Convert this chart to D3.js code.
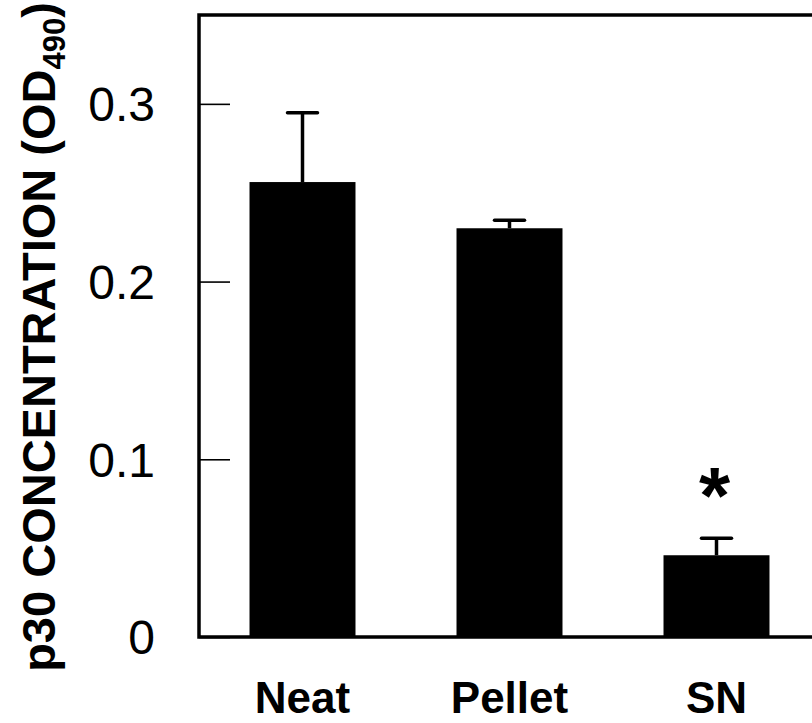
<!DOCTYPE html>
<html>
<head>
<meta charset="utf-8">
<script src="https://cdn.jsdelivr.net/npm/d3@7"></script>
<style>
  body { margin: 0; background: #fff; }
  svg { display: block; font-family: "Liberation Sans", Arial, sans-serif; }
</style>
</head>
<body>
<svg width="812" height="723"></svg>
<script>
var categories = ["Neat", "Pellet", "SN"];
var means = [0.256, 0.230, 0.046];
var errors = [0.039, 0.0045, 0.0096];
var marks = ["", "", "*"];
var yTicks = [0, 0.1, 0.2, 0.3];

function main() {
    var svg = d3.select("svg");

    var left = 199, top = 15, bottom = 637, right = 820;

    var x = d3.scaleBand()
        .domain(categories)
        .range([left, right])
        .paddingInner(0.488)
        .paddingOuter(0.244);

    var y = d3.scaleLinear()
        .domain([0, 0.35])
        .range([bottom, top]);

    var data = categories.map(function (c, i) {
        return { name: c, mean: means[i], err: errors[i], mark: marks[i] };
    });

    // bars
    svg.selectAll(".bar")
        .data(data)
        .enter().append("rect")
        .attr("class", "bar")
        .attr("x", function (d) { return x(d.name); })
        .attr("y", function (d) { return y(d.mean); })
        .attr("width", x.bandwidth())
        .attr("height", function (d) { return y(0) - y(d.mean); })
        .attr("fill", "#000");

    // error bars (upper half only shows)
    var eb = svg.selectAll(".err")
        .data(data)
        .enter().append("g")
        .attr("class", "err")
        .style("stroke", "#000")
        .style("stroke-width", 3.5);

    eb.append("line")
        .attr("x1", function (d) { return x(d.name) + x.bandwidth() / 2; })
        .attr("x2", function (d) { return x(d.name) + x.bandwidth() / 2; })
        .attr("y1", function (d) { return y(d.mean); })
        .attr("y2", function (d) { return y(d.mean + d.err); });

    eb.append("line")
        .attr("x1", function (d) { return x(d.name) + x.bandwidth() / 2 - 15; })
        .attr("x2", function (d) { return x(d.name) + x.bandwidth() / 2 + 15; })
        .attr("y1", function (d) { return y(d.mean + d.err); })
        .attr("y2", function (d) { return y(d.mean + d.err); })
        .style("stroke-linecap", "round");

    // significance mark
    svg.selectAll(".mark")
        .data(data)
        .enter().append("text")
        .attr("class", "mark")
        .attr("x", function (d) { return x(d.name) + x.bandwidth() / 2 - 2; })
        .attr("y", 523)
        .attr("text-anchor", "middle")
        .style("font-size", "80px")
        .style("font-weight", "bold")
        .text(function (d) { return d.mark; });

    // y axis with inner ticks
    var yAxis = svg.append("g")
        .attr("transform", "translate(" + left + ",0)")
        .call(d3.axisRight(y).tickValues(yTicks).tickSize(31).tickFormat(""));
    yAxis.select(".domain").remove();
    yAxis.selectAll(".tick line").style("stroke", "#000").style("stroke-width", 1.6);

    svg.selectAll(".ylab")
        .data(yTicks)
        .enter().append("text")
        .attr("class", "ylab")
        .attr("x", 155)
        .attr("y", function (d) { return y(d); })
        .attr("dy", "0.36em")
        .attr("text-anchor", "end")
        .style("font-size", "48px")
        .text(function (d) { return d === 0 ? "0" : d3.format(".1f")(d); });

    // frame: left, top, bottom
    svg.append("path")
        .attr("d", "M" + right + "," + top + "H" + left + "V" + bottom + "H" + right)
        .attr("fill", "none")
        .attr("stroke", "#000")
        .attr("stroke-width", 3.5);

    // x labels
    svg.selectAll(".xlab")
        .data(categories)
        .enter().append("text")
        .attr("class", "xlab")
        .attr("x", function (d) { return x(d) + x.bandwidth() / 2; })
        .attr("y", 713)
        .attr("text-anchor", "middle")
        .style("font-size", "44px")
        .style("font-weight", "bold")
        .text(function (d) { return d; });

    // y title
    var title = svg.append("text")
        .attr("transform", "translate(55,337) rotate(-90)")
        .attr("text-anchor", "middle")
        .style("font-size", "47px")
        .style("font-weight", "bold");
    title.append("tspan").text("p30 CONCENTRATION (OD");
    title.append("tspan").attr("dy", 10).style("font-size", "31px").text("490");
    title.append("tspan").attr("dy", -10).text(")");
}

main();
</script>
</body>
</html>
